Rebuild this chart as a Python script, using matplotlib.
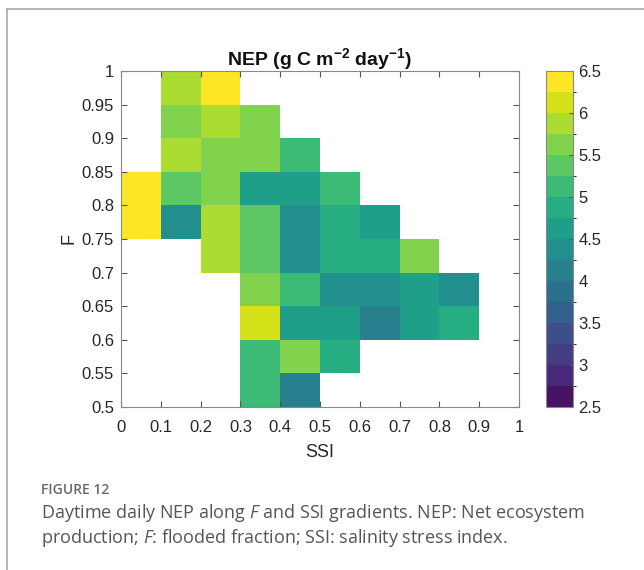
import numpy as np
import matplotlib.pyplot as plt
from matplotlib.colors import BoundaryNorm, ListedColormap
from matplotlib.lines import Line2D

# bin edges
ssi_edges = np.round(np.arange(0, 1.01, 0.1), 2)
f_edges = np.round(np.arange(0.5, 1.001, 0.05), 3)

# NEP per cell, rows from F=0.5 (bottom) to F=1.0 (top), columns SSI 0..1
nan = np.nan
nep = np.array([
    [nan,   nan,   nan,   5.125, 4.125, nan,   nan,   nan,   nan,   nan],  # 0.50-0.55
    [nan,   nan,   nan,   5.125, 5.625, 4.875, nan,   nan,   nan,   nan],  # 0.55-0.60
    [nan,   nan,   nan,   6.125, 4.625, 4.625, 4.125, 4.625, 4.875, nan],  # 0.60-0.65
    [nan,   nan,   nan,   5.625, 5.125, 4.375, 4.375, 4.625, 4.375, nan],  # 0.65-0.70
    [nan,   nan,   5.875, 5.375, 4.375, 4.875, 4.875, 5.625, nan,   nan],  # 0.70-0.75
    [6.375, 4.375, 5.875, 5.375, 4.375, 4.875, 4.625, nan,   nan,   nan],  # 0.75-0.80
    [6.375, 5.375, 5.625, 4.625, 4.625, 5.125, nan,   nan,   nan,   nan],  # 0.80-0.85
    [nan,   5.875, 5.625, 5.625, 5.125, nan,   nan,   nan,   nan,   nan],  # 0.85-0.90
    [nan,   5.625, 5.875, 5.625, nan,   nan,   nan,   nan,   nan,   nan],  # 0.90-0.95
    [nan,   5.875, 6.375, nan,   nan,   nan,   nan,   nan,   nan,   nan],  # 0.95-1.00
])

levels = np.arange(2.5, 6.51, 0.25)
cbar_ticks = [2.5, 3, 3.5, 4, 4.5, 5, 5.5, 6, 6.5]
cbar_labels = ['2.5', '3', '3.5', '4', '4.5', '5', '5.5', '6', '6.5']
x_labels = ['0', '0.1', '0.2', '0.3', '0.4', '0.5', '0.6', '0.7', '0.8', '0.9', '1']
y_labels = ['0.5', '0.55', '0.6', '0.65', '0.7', '0.75', '0.8', '0.85', '0.9', '0.95', '1']

plt.rcParams['font.family'] = ['Liberation Sans', 'DejaVu Sans']
plt.rcParams['mathtext.fontset'] = 'custom'
plt.rcParams['mathtext.rm'] = 'Liberation Sans'
plt.rcParams['mathtext.bf'] = 'Liberation Sans:bold'
plt.rcParams['mathtext.it'] = 'Open Sans:italic'

fig = plt.figure(figsize=(6.44, 5.70), dpi=100)
ax = fig.add_axes([121 / 644, 1 - 407 / 570, 398 / 644, 336 / 570])
cax = fig.add_axes([546 / 644, 1 - 407 / 570, 27 / 644, 336 / 570])

nlev = len(levels) - 1
cmap = ListedColormap(plt.get_cmap('viridis')(np.linspace(0.05, 1, nlev)))
norm = BoundaryNorm(levels, cmap.N)
mesh = ax.pcolormesh(ssi_edges, f_edges, np.ma.masked_invalid(nep),
                     cmap=cmap, norm=norm)

ax.set_xlim(0, 1)
ax.set_ylim(0.5, 1)
ax.set_xticks(ssi_edges)
ax.set_xticklabels(x_labels)
ax.set_yticks(f_edges)
ax.set_yticklabels(y_labels)
ax.tick_params(direction='in', top=True, right=True, length=4,
               color='#555555', labelsize=12, labelcolor='#262626')
ax.tick_params(axis='x', pad=9)
ax.tick_params(axis='y', pad=5)
for s in ax.spines.values():
    s.set_color('#888888')
    s.set_linewidth(0.8)
ax.set_xlabel('SSI', fontsize=13, color='#262626', labelpad=7)
ax.set_ylabel('F', fontsize=13, color='#262626', labelpad=3)
ax.set_title(r'NEP (g C m$^{\mathbf{-2}}$ day$^{\mathbf{-1}}$)',
             fontsize=14, fontweight='bold', color='#111111', pad=4)

cb = fig.colorbar(mesh, cax=cax, ticks=cbar_ticks)
cb.ax.set_yticklabels(cbar_labels)
cb.ax.tick_params(direction='in', length=3, color='#555555', labelsize=12,
                  labelcolor='#262626', pad=4)
cb.outline.set_edgecolor('#888888')
cb.outline.set_linewidth(0.8)

# page frame of the figure panel
fig.add_artist(Line2D([7 / 644, 1], [1 - 9 / 570, 1 - 9 / 570],
                      transform=fig.transFigure, color='#aaaaaa', lw=1.2))
fig.add_artist(Line2D([7 / 644, 7 / 644], [0, 1 - 9 / 570],
                      transform=fig.transFigure, color='#aaaaaa', lw=1.2))

cap_font = ['Open Sans', 'DejaVu Sans']
fig.text(41 / 644, 1 - 490 / 570, 'FIGURE 12', fontsize=10, fontweight='semibold',
         color='#6a6a6a', family=cap_font, va='center')
fig.text(41 / 644, 1 - 513 / 570,
         'Daytime daily NEP along $\\it{F}$ and SSI gradients. NEP: Net ecosystem',
         fontsize=13, color='#555555', family=cap_font, va='center')
fig.text(41 / 644, 1 - 538 / 570,
         'production; $\\it{F}$: flooded fraction; SSI: salinity stress index.',
         fontsize=13, color='#555555', family=cap_font, va='center')

fig.savefig('out.png', dpi=100)
